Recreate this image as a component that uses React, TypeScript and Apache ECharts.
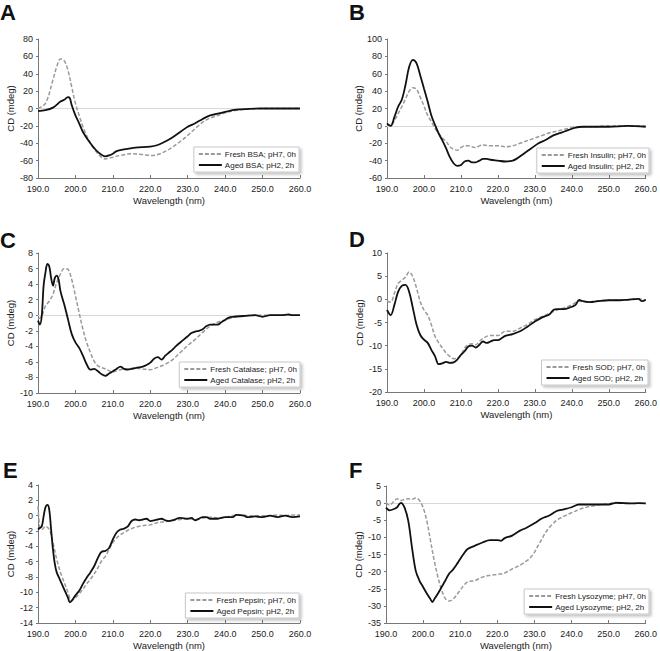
import React, { useEffect, useRef } from "react";
import * as echarts from "echarts";

// ---------- Data (wavelength in nm, CD in mdeg) ----------
const bsaFreshWl = [190, 192, 194, 195, 196, 197, 198, 199, 200, 201, 202, 204, 206, 208, 210, 212, 215, 218, 220, 222, 225, 228, 230, 232, 235, 238, 240, 243, 245, 250, 255, 260];
const bsaFreshCd = [0, 6, 33, 48, 57, 55, 44, 25, 6, -8, -21, -40, -52, -58, -56, -54, -52, -53, -54, -53, -47, -38, -31, -23, -13, -8, -5, -2, -1, 0, 0, 0];
const bsaAgedWl = [190, 192, 194, 196, 197, 198, 198.5, 199, 200, 201, 202, 204, 206, 208, 209, 210, 211, 213, 216, 220, 222, 224, 226, 228, 230, 232, 234, 236, 238, 240, 242, 244, 250, 255, 260];
const bsaAgedCd = [-3, -2, 1, 8, 10, 13, 12, 4, -8, -17, -27, -40, -50, -55, -54, -52, -49, -47, -45, -44, -42, -38, -33, -27, -21, -17, -12, -8, -6, -4, -2, -1, 0, 0, 0];

const insFreshWl = [190, 191, 192, 193, 194, 195, 196, 197, 198, 199, 200, 201, 202, 203, 204, 205, 206, 207, 208, 209, 210, 211, 212, 213, 214, 215, 216, 218, 220, 222, 224, 226, 228, 230, 232, 234, 236, 238, 240, 242, 245, 250, 255, 260];
const insFreshCd = [2, 0, 6, 14, 22, 31, 40, 44, 42, 33, 23, 12, 5, -3, -9, -14, -18, -24, -27, -28, -25, -23, -23, -24, -25, -23, -22, -23, -23, -24, -23, -20, -17, -14, -11, -8, -6, -4, -2, -1, -1, 0, 0, 0];
const insAgedWl = [190, 190.5, 191, 192, 193, 194, 195, 196, 197, 198, 199, 200, 201, 202, 203, 204, 205, 206, 207, 208, 209, 210, 211, 212, 213, 214, 215, 216, 217, 218, 220, 222, 224, 225, 227, 229, 231, 233, 235, 237, 239, 241, 243, 245, 250, 255, 260];
const insAgedCd = [3, 1, 0, 10, 22, 30, 47, 68, 76, 72, 58, 43, 28, 12, 1, -9, -17, -26, -36, -43, -46, -45, -41, -40, -42, -42, -40, -38, -38, -39, -40, -41, -40, -38, -32, -26, -20, -16, -11, -8, -5, -2, -1, -1, -1, 0, -1];

const catFreshWl = [190, 191, 192, 193, 194, 195, 196, 197, 198, 199, 200, 201, 202, 203, 204, 205, 206, 208, 210, 212, 214, 216, 218, 220, 222, 224, 226, 228, 230, 232, 234, 236, 238, 240, 242, 245, 250, 255, 260];
const catFreshCd = [-0.5, -0.1, 1.2, 1.8, 2.7, 4.2, 5.3, 6.0, 5.9, 4.6, 2.5, 0.3, -1.8, -3.5, -4.8, -5.9, -6.5, -6.9, -7.3, -7.0, -6.9, -6.8, -6.9, -7.0, -6.7, -6.3, -5.7, -4.8, -3.9, -3.1, -2.2, -1.4, -0.9, -0.6, -0.3, -0.1, 0, 0, 0];
const catAgedWl = [190, 190.5, 191, 191.5, 192, 192.5, 193, 193.5, 194, 194.5, 195, 195.5, 196, 197, 198, 199, 200, 201, 202, 203, 204, 205, 206, 207, 208, 209, 210, 211, 212, 213, 214, 215, 216, 217, 218, 219, 220, 221, 222, 223, 224, 225, 226, 227, 228, 229, 230, 231, 232, 233, 234, 235, 236, 237, 238, 239, 240, 241, 242, 245, 248, 250, 252, 255, 257, 258, 260];
const catAgedCd = [-0.7, -1.2, -0.1, 3.8, 5.5, 6.6, 6.3, 4.8, 3.8, 4.8, 5.1, 4.6, 3.1, 1.4, -0.5, -2.4, -3.5, -4.2, -5.2, -6.3, -7.0, -6.9, -7.2, -7.6, -7.8, -7.5, -7.2, -6.9, -6.6, -6.9, -7.0, -6.9, -6.8, -6.7, -6.6, -6.4, -6.1, -5.6, -5.4, -5.7, -5.2, -4.8, -4.4, -3.9, -3.5, -3.1, -2.7, -2.3, -2.1, -2.0, -1.8, -1.4, -1.2, -1.2, -1.2, -0.9, -0.6, -0.3, -0.2, -0.1, 0, -0.2, 0, 0, 0.1, 0, 0];

const sodFreshWl = [190, 191, 192, 193, 194, 195, 196, 197, 198, 199, 200, 201, 202, 203, 204, 205, 206, 207, 208, 209, 210, 211, 212, 213, 214, 215, 216, 218, 220, 222, 224, 226, 228, 230, 232, 234, 236, 238, 240, 242, 244, 246, 250, 255, 258, 260];
const sodFreshCd = [-0.4, -0.6, 1.3, 3.4, 4.1, 4.8, 5.9, 4.8, 2.4, -0.5, -2.3, -3.4, -5.5, -8.0, -9.4, -10.5, -11.6, -12.3, -12.8, -12.7, -12.0, -10.5, -9.8, -9.6, -9.8, -9.1, -8.4, -7.8, -7.8, -6.9, -6.9, -6.2, -5.4, -4.4, -3.7, -3.0, -2.3, -1.8, -1.2, -0.4, -0.6, -0.4, -0.2, -0.1, 0.1, -0.2];
const sodAgedWl = [190, 191, 192, 193, 194, 195, 196, 197, 198, 199, 200, 201, 202, 203, 204, 205, 206, 207, 208, 209, 210, 211, 212, 213, 214, 215, 216, 217, 218, 219, 220, 221, 222, 224, 226, 228, 230, 232, 234, 235, 236, 238, 240, 241, 242, 243, 245, 247, 250, 253, 255, 258, 259, 260];
const sodAgedCd = [-2.3, -3.4, -1.2, 1.6, 2.9, 3.1, 1.6, -1.9, -5.5, -7.7, -8.7, -9.4, -10.9, -12.3, -14.0, -13.8, -13.5, -13.7, -13.6, -13.0, -12.0, -11.2, -10.2, -10.0, -10.4, -9.8, -9.1, -9.4, -9.1, -8.8, -8.8, -8.4, -7.9, -7.5, -6.9, -5.9, -4.8, -3.9, -3.2, -2.3, -2.1, -2.1, -1.6, -1.2, -0.1, -0.4, -0.6, -0.4, -0.2, -0.2, -0.1, 0.1, -0.4, -0.1];

const pepFreshWl = [190, 190.5, 191, 192, 193, 194, 195, 196, 197, 198, 199, 200, 201, 202, 203, 204, 205, 206, 207, 208, 209, 210, 211, 212, 213, 214, 215, 216, 218, 220, 222, 224, 226, 228, 230, 232, 234, 236, 238, 240, 242, 244, 246, 248, 250, 252, 254, 256, 258, 260];
const pepFreshCd = [1.2, -1.6, -1.8, -1.4, -1.8, -3.5, -5.7, -7.4, -8.7, -10.0, -11.1, -10.7, -10.2, -9.6, -8.9, -8.3, -7.6, -6.8, -5.9, -5.3, -4.4, -3.5, -2.9, -2.5, -2.2, -1.9, -1.7, -1.5, -1.3, -1.2, -0.9, -0.8, -0.6, -0.5, -0.4, -0.5, -0.3, -0.2, -0.3, -0.2, 0, 0.1, 0, 0, 0, 0, 0.1, 0, 0.1, 0.1];
const pepAgedWl = [190, 190.5, 191, 191.5, 192, 192.5, 193, 193.5, 194, 194.5, 195, 196, 197, 198, 198.5, 199, 200, 201, 202, 203, 204, 205, 206, 207, 208, 209, 210, 211, 212, 213, 214, 215, 216, 217, 218, 219, 220, 221, 222, 223, 224, 225, 226, 228, 230, 231, 232, 234, 235, 236, 238, 240, 242, 243, 245, 246, 248, 250, 252, 254, 256, 258, 260];
const pepAgedCd = [-1.8, -1.6, -1.4, -0.1, 1.1, 1.4, 0.8, -1.8, -4.4, -6.3, -7.4, -8.5, -9.6, -10.7, -11.3, -11.1, -10.4, -9.8, -8.9, -8.1, -7.4, -6.6, -5.5, -4.7, -4.6, -4.2, -3.1, -2.2, -1.8, -1.7, -1.4, -0.7, -0.5, -0.6, -0.5, -0.4, -0.7, -0.6, -0.5, -0.4, -0.6, -0.7, -0.6, -0.3, -0.4, -0.3, -0.6, -0.2, -0.2, -0.4, -0.4, -0.2, -0.2, 0.1, 0, -0.2, -0.1, -0.2, 0, -0.2, 0, -0.2, -0.1];

const lysFreshWl = [190, 191, 192, 193, 194, 195, 196, 197, 198, 199, 200, 201, 202, 203, 204, 205, 206, 207, 208, 209, 210, 211, 212, 214, 216, 218, 220, 222, 224, 226, 228, 229, 230, 231, 232, 233, 234, 235, 236, 238, 240, 242, 244, 246, 248, 250, 252, 254, 256, 258, 260];
const lysFreshCd = [0.1, -0.6, 0.4, 1.3, 0.8, 1.1, 1.3, 1.1, 1.5, 0.8, -1.3, -5.2, -11.0, -16.8, -21.6, -25.4, -27.9, -28.6, -28.1, -26.9, -25.4, -24.0, -23.0, -22.6, -21.6, -21.1, -20.8, -20.4, -19.2, -18.2, -16.8, -15.8, -14.4, -12.4, -10.5, -8.6, -7.1, -6.0, -5.0, -3.8, -2.8, -1.9, -1.2, -0.8, -0.4, -0.2, 0.2, 0, -0.1, 0, -0.1];
const lysAgedWl = [190, 191, 192, 193, 193.5, 194, 195, 196, 197, 198, 199, 200, 201, 202, 202.5, 203, 204, 205, 206, 207, 208, 209, 210, 211, 212, 214, 216, 218, 220, 221, 222, 224, 226, 228, 230, 232, 234, 236, 238, 240, 242, 244, 246, 250, 252, 254, 256, 258, 260];
const lysAgedCd = [-1.3, -2.1, -1.8, -1.2, -0.4, 0.1, -1.3, -5.2, -12.9, -19.7, -22.6, -24.5, -26.4, -28.1, -28.9, -28.1, -26.4, -24.5, -22.6, -20.6, -19.5, -18.0, -16.3, -14.7, -13.4, -12.4, -11.5, -10.8, -10.8, -11.0, -10.2, -9.5, -8.1, -7.1, -5.9, -4.5, -3.6, -2.3, -1.8, -1.2, -0.4, -0.4, -0.4, -0.4, 0.1, 0, -0.1, 0, -0.1];

const panelLetters = ["A", "B", "C", "D", "E", "F"];
const freshNames = ["Fresh BSA; pH7, 0h", "Fresh Insulin; pH7, 0h", "Fresh Catalase; pH7, 0h", "Fresh SOD; pH7, 0h", "Fresh Pepsin; pH7, 0h", "Fresh Lysozyme; pH7, 0h"];
const agedNames = ["Aged BSA; pH2, 2h", "Aged Insulin; pH2, 2h", "Aged Catalase; pH2, 2h", "Aged SOD; pH2, 2h", "Aged Pepsin; pH2, 2h", "Aged Lysozyme; pH2, 2h"];
const yMins = [-80, -60, -10, -20, -14, -35];
const yMaxs = [80, 100, 8, 10, 4, 5];
const yIntervals = [20, 20, 2, 5, 2, 5];
const showZeroLine = [true, true, true, false, false, true];

const freshWl = [bsaFreshWl, insFreshWl, catFreshWl, sodFreshWl, pepFreshWl, lysFreshWl];
const freshCd = [bsaFreshCd, insFreshCd, catFreshCd, sodFreshCd, pepFreshCd, lysFreshCd];
const agedWl = [bsaAgedWl, insAgedWl, catAgedWl, sodAgedWl, pepAgedWl, lysAgedWl];
const agedCd = [bsaAgedCd, insAgedCd, catAgedCd, sodAgedCd, pepAgedCd, lysAgedCd];

// ---------- Layout ----------
const grids = [
  { left: 38, top: 39, width: 262, height: 139 },
  { left: 387, top: 39, width: 261, height: 139 },
  { left: 38, top: 253, width: 262, height: 140 },
  { left: 387, top: 253, width: 261, height: 139 },
  { left: 38, top: 485, width: 262, height: 139 },
  { left: 386, top: 486, width: 263, height: 138 },
];
const legendPos = [
  { right: 361, top: 147 },
  { right: 11, top: 148 },
  { right: 360, top: 362 },
  { right: 12, top: 360 },
  { right: 361, top: 593 },
  { right: 11, top: 589 },
];
const letterPos = [
  { x: 0, y: 1 },
  { x: 349, y: 1 },
  { x: 0, y: 229 },
  { x: 349, y: 228 },
  { x: 3, y: 459 },
  { x: 349, y: 459 },
];

const FONT = "'Liberation Sans', Arial, Helvetica, sans-serif";
const zip = (a: number[], b: number[]) => a.map((x, i) => [x, b[i]]);

export default function App() {
  const ref = useRef<HTMLDivElement>(null);
  useEffect(() => {
    if (!ref.current) return;
    const chart = echarts.init(ref.current, undefined, { renderer: "svg" });
    const xAxis: any[] = [];
    const yAxis: any[] = [];
    const series: any[] = [];
    const legend: any[] = [];
    const graphic: any[] = [];
    grids.forEach((g, i) => {
      xAxis.push({
        type: "value",
        gridIndex: i,
        min: 190,
        max: 260,
        interval: 10,
        name: "Wavelength (nm)",
        nameLocation: "middle",
        nameGap: 17,
        nameTextStyle: { fontFamily: FONT, fontSize: 9.5, color: "#222" },
        axisLine: { show: true, onZero: false, lineStyle: { color: "#777", width: 1 } },
        axisTick: { show: true, inside: true, length: 3, lineStyle: { color: "#777" } },
        axisLabel: { fontFamily: FONT, fontSize: 9, color: "#222", margin: 6, formatter: (v: number) => v.toFixed(1) },
        splitLine: { show: false },
      });
      yAxis.push({
        type: "value",
        gridIndex: i,
        min: yMins[i],
        max: yMaxs[i],
        interval: yIntervals[i],
        name: "CD (mdeg)",
        nameLocation: "middle",
        nameGap: 23,
        nameTextStyle: { fontFamily: FONT, fontSize: 9.5, color: "#222" },
        axisLine: { show: true, lineStyle: { color: "#777", width: 1 } },
        axisTick: { show: true, length: 2, lineStyle: { color: "#777" } },
        axisLabel: { fontFamily: FONT, fontSize: 9, color: "#222", margin: 5 },
        splitLine: { show: false },
      });
      const s1: any = {
        type: "line",
        name: freshNames[i],
        xAxisIndex: i,
        yAxisIndex: i,
        data: zip(freshWl[i], freshCd[i]),
        smooth: 0.35,
        symbol: "none",
        lineStyle: { color: "#9a9a9a", width: 1.5, type: [4, 2] },
        itemStyle: { color: "#9a9a9a" },
        z: 2,
      };
      if (showZeroLine[i]) {
        s1.markLine = {
          silent: true,
          symbol: ["none", "none"],
          label: { show: false },
          lineStyle: { color: "#d8d8d8", width: 1, type: "solid" },
          data: [{ yAxis: 0 }],
          z: 1,
        };
      }
      series.push(s1);
      series.push({
        type: "line",
        name: agedNames[i],
        xAxisIndex: i,
        yAxisIndex: i,
        data: zip(agedWl[i], agedCd[i]),
        smooth: 0.35,
        symbol: "none",
        lineStyle: { color: "#111", width: 1.8, type: "solid" },
        itemStyle: { color: "#111" },
        z: 3,
      });
      legend.push({
        data: [freshNames[i], agedNames[i]],
        orient: "vertical",
        right: legendPos[i].right,
        top: legendPos[i].top,
        align: "left",
        itemWidth: 23,
        itemHeight: 8,
        itemGap: 3,
        padding: [3, 3, 3, 4],
        backgroundColor: "#fff",
        borderColor: "#c8c8c8",
        borderWidth: 1,
        shadowBlur: 3,
        shadowOffsetX: 2,
        shadowOffsetY: 2,
        shadowColor: "rgba(0,0,0,0.25)",
        itemStyle: { color: "transparent", borderColor: "transparent", borderWidth: 0, opacity: 0 },
        textStyle: { fontFamily: FONT, fontSize: 8, color: "#222", padding: [0, 0, 0, -2] },
        selectedMode: false,
      });
      graphic.push({
        type: "text",
        left: letterPos[i].x,
        top: letterPos[i].y,
        style: { text: panelLetters[i], font: `bold 22px ${FONT}`, fill: "#111" },
      });
    });
    chart.setOption({
      animation: false,
      backgroundColor: "#fff",
      grid: grids.map((g) => ({ ...g, containLabel: false })),
      xAxis,
      yAxis,
      series,
      legend,
      graphic,
    });
    return () => chart.dispose();
  }, []);
  return <div ref={ref} style={{ position: "fixed", left: 0, top: 0, width: 660, height: 651 }} />;
}
